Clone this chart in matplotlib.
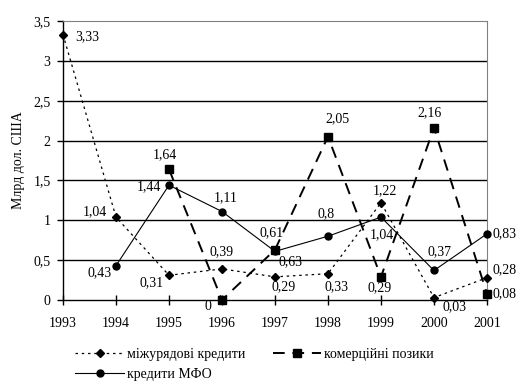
import matplotlib.pyplot as plt
from matplotlib.ticker import FuncFormatter

# дані (млрд дол. США)
years = [1993, 1994, 1995, 1996, 1997, 1998, 1999, 2000, 2001]
mizhuriad = [3.33, 1.04, 0.31, 0.39, 0.29, 0.33, 1.22, 0.03, 0.28]
mfo_years = [1994, 1995, 1996, 1997, 1998, 1999, 2000, 2001]
mfo = [0.43, 1.44, 1.11, 0.61, 0.8, 1.04, 0.37, 0.83]
kom_years = [1995, 1996, 1997, 1998, 1999, 2000, 2001]
komerc = [1.64, 0, 0.63, 2.05, 0.29, 2.16, 0.08]

# зміщення підписів (пікселі)
off_mizh = [(24, -2), (-21, 5), (-17, -7), (0, 17), (9, -10), (9, -13), (4, 12), (21, -9), (18, 8)]
off_mfo = [(-16, -7), (-20, -1), (4, 14), (-3, 19), (-2, 23), (1, -18), (6, 19), (18, 0)]
off_kom = [(-4, 15), (-14, -7), (16, -12), (9, 18), (-1, -11), (-4, 15), (18, 0)]

plt.rcParams['font.family'] = ['Liberation Serif', 'DejaVu Serif']
plt.rcParams['font.size'] = 10

fig = plt.figure(figsize=(5.28, 3.85), dpi=100)
ax = fig.add_axes([0.1193, 0.2208, 0.803, 0.7247])


def fmt(v):
    s = ('%.2f' % v).rstrip('0').rstrip('.')
    return s.replace('.', ',')


l1, = ax.plot(years, mizhuriad, color='black', lw=0.9, ls=(0, (2, 3)),
              marker='D', ms=4.5, clip_on=False, zorder=4, label='міжурядові кредити')
l3, = ax.plot(kom_years, komerc, color='black', lw=1.4, ls=(0, (6, 4)),
              marker='s', ms=6, clip_on=False, zorder=4, label='комерційні позики')
l2, = ax.plot(mfo_years, mfo, color='black', lw=0.8, ls='-',
              marker='o', ms=5, clip_on=False, zorder=5, label='кредити МФО')

for xs, ys, offs in [(years, mizhuriad, off_mizh), (mfo_years, mfo, off_mfo),
                     (kom_years, komerc, off_kom)]:
    for x, y, o in zip(xs, ys, offs):
        ax.annotate(fmt(y), (x, y), xytext=o, textcoords='offset pixels',
                    ha='center', va='center', fontsize=10)

ax.set_xlim(1993, 2001)
ax.set_ylim(0, 3.5)
ax.set_xticks(years)
ax.set_yticks([0, 0.5, 1, 1.5, 2, 2.5, 3, 3.5])
ax.yaxis.set_major_formatter(FuncFormatter(lambda v, p: fmt(v)))
for v in [0.5, 1, 1.5, 2, 2.5, 3]:
    ax.axhline(v, color='black', lw=1, zorder=1)
ax.spines['top'].set_color('#808080')
ax.spines['right'].set_color('#808080')
ax.spines['left'].set_linewidth(1)
ax.spines['bottom'].set_linewidth(1)
ax.tick_params(axis='x', direction='inout', length=7, width=1, pad=9)
ax.tick_params(axis='y', direction='out', length=4, width=1, pad=5)
ax.set_ylabel('Млрд дол. США', fontsize=10, labelpad=6)

fig.legend(handles=[l1, l2, l3], ncol=2, loc='upper left',
           bbox_to_anchor=(0.1426, 0.097), frameon=False, handlelength=3.5,
           handletextpad=0.2, columnspacing=2.0, labelspacing=0.55,
           borderpad=0, borderaxespad=0)

fig.savefig('out.png', dpi=100)
